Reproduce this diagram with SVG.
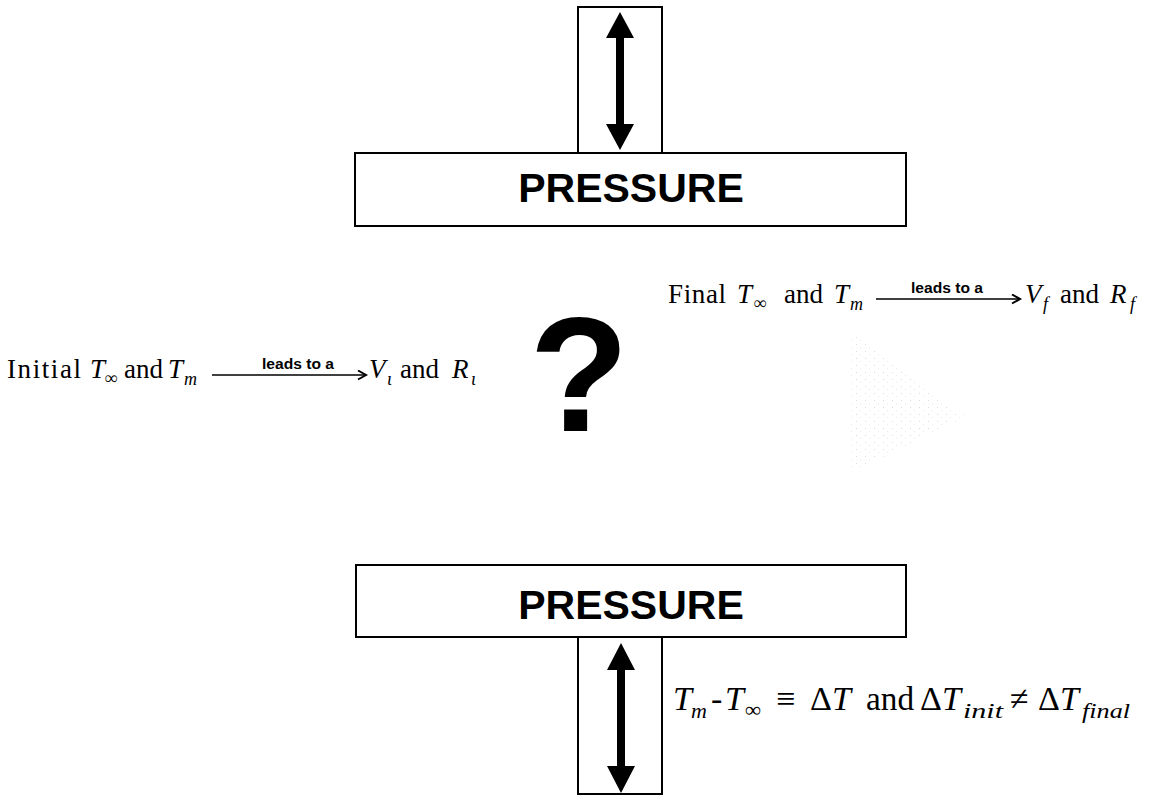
<svg xmlns="http://www.w3.org/2000/svg" width="1156" height="796" viewBox="0 0 1156 796">
<style>
.box{fill:#fff;stroke:#000;stroke-width:2}
.plate{font-family:"Liberation Sans",Arial,sans-serif;font-weight:bold;font-size:41px;fill:#000;text-anchor:middle}
.s{font-family:"Liberation Serif","Times New Roman",serif;font-size:27px;fill:#000}
.i{font-style:italic}
.sub{font-size:18px;font-style:italic}
.lbl{font-family:"Liberation Sans",Arial,sans-serif;font-size:14px;font-weight:bold;fill:#000}
.eq{font-family:"Liberation Serif","Times New Roman",serif;font-size:34px;fill:#000}
.esub{font-size:22px;font-style:italic}
.thin{stroke:#000;stroke-width:1.6;fill:none}
.dbl{fill:#000}
</style>
<defs>
<marker id="head" markerWidth="12" markerHeight="12" refX="9" refY="5" orient="auto" markerUnits="userSpaceOnUse">
<path d="M1,0.5 L9,5 L1,9.5" fill="none" stroke="#000" stroke-width="2"/>
</marker>
<pattern id="dots" width="9" height="7" patternUnits="userSpaceOnUse">
<rect x="1" y="1" width="1" height="1" fill="#c4c4c4"/>
<rect x="5" y="4" width="1" height="1" fill="#dadada"/>
</pattern>
</defs>

<g id="top-piston"><rect class="box" x="578" y="7" width="84" height="146"/></g>
<g id="top-plate"><rect class="box" x="355" y="153" width="551" height="73"/><text class="plate" x="631" y="202">PRESSURE</text></g>
<g id="bottom-plate"><rect class="box" x="356" y="565" width="550" height="72"/><text class="plate" x="631" y="619">PRESSURE</text></g>
<g id="bottom-piston"><rect class="box" x="578" y="637" width="84" height="157"/></g>

<g id="question"><text x="579" y="431" font-family="Liberation Sans,Arial,sans-serif" font-weight="bold" font-size="163" text-anchor="middle">?</text></g>

<g id="ghost" opacity="0.6"><polygon points="848,334 852,334 967,416 852,472 848,472" fill="url(#dots)"/></g>

<g id="connectors">
<polygon class="dbl" points="620,12 634,38 624,38 624,124 634,124 620,150 606,124 616,124 616,38 606,38"/>
<polygon class="dbl" points="621,643 635,670 625,670 625,766 635,766 621,793 607,766 617,766 617,670 607,670"/>
<line class="thin" x1="212" y1="375" x2="366" y2="375" marker-end="url(#head)"/>
<line class="thin" x1="876" y1="299" x2="1020" y2="299" marker-end="url(#head)"/>
</g>

<g id="initial-label">
<text class="s" y="378"><tspan x="7" textLength="74" lengthAdjust="spacing">Initial</tspan></text>
<text class="s i" x="90" y="378">T</text><text class="s sub" x="105" y="384">∞</text>
<text class="s" x="124" y="378">and</text>
<text class="s i" x="168" y="378">T</text><text class="s sub" x="184" y="385">m</text>
<text class="lbl" x="262" y="369" textLength="72" lengthAdjust="spacingAndGlyphs">leads to a</text>
<text class="s i" x="369" y="378">V</text><text class="s sub" x="387" y="385">ι</text>
<text class="s" x="400" y="378">and</text>
<text class="s i" x="452" y="378">R</text><text class="s sub" x="471" y="385">ι</text>
</g>

<g id="final-label">
<text class="s" y="303"><tspan x="668" textLength="58" lengthAdjust="spacing">Final</tspan></text>
<text class="s i" x="737" y="303">T</text><text class="s sub" x="754" y="309">∞</text>
<text class="s" x="784" y="303">and</text>
<text class="s i" x="834" y="303">T</text><text class="s sub" x="850" y="310">m</text>
<text class="lbl" x="911" y="293" textLength="72" lengthAdjust="spacingAndGlyphs">leads to a</text>
<text class="s i" x="1025" y="303">V</text><text class="s sub" x="1043" y="310">f</text>
<text class="s" x="1060" y="303">and</text>
<text class="s i" x="1110" y="303">R</text><text class="s sub" x="1130" y="310">f</text>
</g>

<g id="equation">
<text class="eq i" x="673" y="710">T</text><text class="eq esub" x="691" y="718">m</text>
<text class="eq" x="711" y="710">-</text>
<text class="eq i" x="725" y="710">T</text><text class="eq esub" x="745" y="717" font-size="25">∞</text>
<text class="eq" x="776" y="710" font-size="40">≡</text>
<text class="eq" x="810" y="710">Δ<tspan class="i">T</tspan></text>
<text class="eq" x="866" y="710" textLength="48" lengthAdjust="spacingAndGlyphs">and</text>
<text class="eq" x="920" y="710">Δ<tspan class="i">T</tspan></text><text class="eq esub" x="963" y="718" textLength="40" lengthAdjust="spacingAndGlyphs">init</text>
<text class="eq" x="1010" y="710" font-size="38">≠</text>
<text class="eq" x="1038" y="710">Δ<tspan class="i">T</tspan></text><text class="eq esub" x="1082" y="718" textLength="48" lengthAdjust="spacingAndGlyphs">final</text>
</g>
</svg>
